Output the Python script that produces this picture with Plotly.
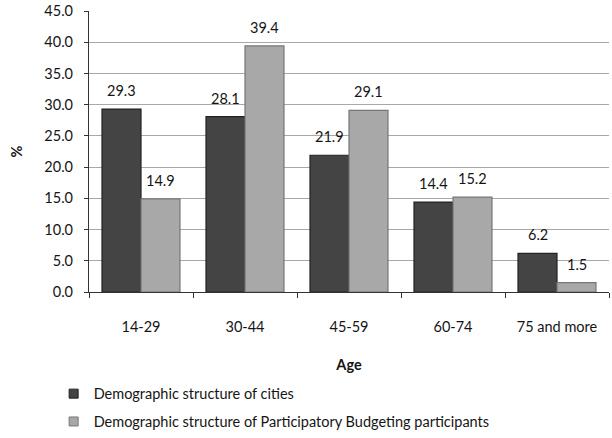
import plotly.graph_objects as go

age_groups = ["14-29", "30-44", "45-59", "60-74", "75 and more"]
cities = [29.3, 28.1, 21.9, 14.4, 6.2]
pb_participants = [14.9, 39.4, 29.1, 15.2, 1.5]
y_ticks = [0, 5, 10, 15, 20, 25, 30, 35, 40, 45]

series_names = [
    "Demographic structure of cities",
    "Demographic structure of Participatory Budgeting participants",
]
fill_colors = ["#444444", "#a8a8a8"]
edge_colors = ["#222222", "#777777"]

FONT = "Lato, 'Open Sans', sans-serif"
TXT = "#151515"
FS = 14.5

fig = go.Figure()
for vals, name, fc, ec in zip([cities, pb_participants], series_names, fill_colors, edge_colors):
    fig.add_trace(go.Bar(
        x=age_groups, y=vals, name=name, showlegend=False,
        marker=dict(color=fc, line=dict(color=ec, width=1.2)),
    ))
    # small square legend keys
    fig.add_trace(go.Scatter(
        x=[None], y=[None], mode="markers", name=name, legendgroup=name,
        marker=dict(symbol="square", size=9, color=fc, line=dict(color=ec, width=1)),
    ))

# value labels above each bar
offsets = [-19.5, 19.5]
annotations = []
for vals, dx in zip([cities, pb_participants], offsets):
    for cat, v in zip(age_groups, vals):
        annotations.append(dict(
            x=cat, y=v, xref="x", yref="y", text=f"{v:.1f}", showarrow=False,
            xshift=dx, yshift=8, yanchor="bottom",
            font=dict(size=FS, color=TXT, family=FONT),
        ))

fig.update_layout(
    width=612, height=438,
    margin=dict(l=89, r=3, t=11, b=146, autoexpand=False),
    paper_bgcolor="white", plot_bgcolor="white",
    barmode="group", bargap=0.25, bargroupgap=0,
    font=dict(family=FONT, size=FS, color=TXT),
    annotations=annotations,
    legend=dict(
        orientation="v", x=-0.068, xanchor="left", y=-0.305, yanchor="top",
        font=dict(size=FS, color=TXT, family=FONT),
        tracegroupgap=6, itemwidth=30, bgcolor="rgba(0,0,0,0)",
    ),
    xaxis=dict(
        title=dict(text="<b>Age</b>", font=dict(size=FS, family=FONT), standoff=26),
        tickson="boundaries", ticks="outside", ticklen=5, tickcolor="#333",
        ticklabelstandoff=21, automargin=False,
        showline=True, linecolor="#333", linewidth=1.2,
        tickfont=dict(size=FS, family=FONT), showgrid=False,
    ),
    yaxis=dict(
        title=dict(text="<b>%</b>", font=dict(size=FS, family=FONT), standoff=18),
        range=[0, 45], tickvals=y_ticks, tickformat=".1f",
        ticks="outside", ticklen=4, tickcolor="#333", ticklabelstandoff=8,
        showline=True, linecolor="#333", linewidth=1.2, automargin=False,
        showgrid=True, gridcolor="#a8a8a8", gridwidth=1,
        tickfont=dict(size=FS, family=FONT), zeroline=False,
    ),
)

fig.write_html("out.html")
